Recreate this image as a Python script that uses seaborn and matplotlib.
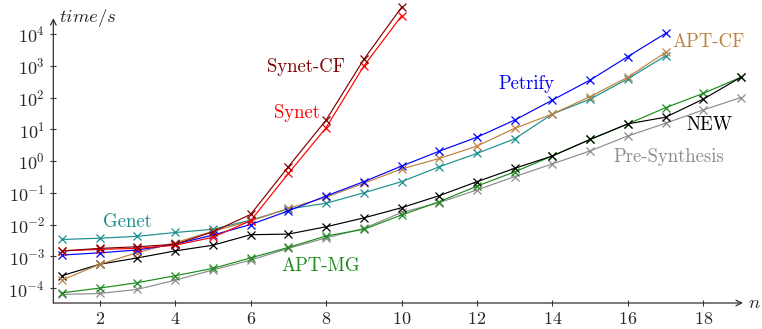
import numpy as np
import pandas as pd
import matplotlib
matplotlib.use("Agg")
import matplotlib.pyplot as plt
import seaborn as sns

sns.set_style("ticks")
plt.rcParams["font.family"] = ["serif"]
plt.rcParams["font.serif"] = ["cmr10", "DejaVu Serif"]
plt.rcParams["mathtext.fontset"] = "cm"
plt.rcParams["axes.formatter.use_mathtext"] = True
plt.rcParams["axes.unicode_minus"] = False

# ---- data (log10 of time in seconds) ----
n_short = list(range(1, 11))
n_mid = list(range(1, 18))
n_long = list(range(1, 20))

synet_cf = [-2.83, -2.75, -2.70, -2.62, -2.23, -1.68, -0.18, 1.29, 3.20, 4.84]
synet = [-2.83, -2.78, -2.75, -2.65, -2.40, -1.88, -0.39, 1.05, 2.99, 4.57]
petrify = [-2.96, -2.89, -2.80, -2.62, -2.33, -2.00, -1.57, -1.10, -0.65, -0.16,
           0.31, 0.75, 1.29, 1.92, 2.55, 3.29, 4.02]
apt_cf = [-3.75, -3.25, -2.88, -2.57, -2.21, -1.89, -1.49, -1.14, -0.70, -0.25,
          0.08, 0.47, 1.03, 1.48, 2.03, 2.64, 3.42]
genet = [-2.47, -2.43, -2.37, -2.25, -2.15, -1.86, -1.51, -1.33, -1.00, -0.65,
         -0.18, 0.24, 0.70, 1.48, 1.95, 2.59, 3.31]
new = [-3.61, -3.25, -3.05, -2.83, -2.65, -2.32, -2.30, -2.07, -1.79, -1.47,
       -1.09, -0.65, -0.23, 0.16, 0.68, 1.17, 1.38, 1.95, 2.64]
apt_mg = [-4.15, -4.00, -3.83, -3.61, -3.38, -3.05, -2.72, -2.36, -2.15, -1.70,
          -1.28, -0.79, -0.34, 0.16, 0.68, 1.17, 1.68, 2.13, 2.64]
pre_syn = [-4.20, -4.17, -4.04, -3.75, -3.43, -3.12, -2.75, -2.42, -2.12, -1.62,
           -1.31, -0.91, -0.49, -0.09, 0.32, 0.79, 1.19, 1.61, 2.00]

series = [
    ("Pre-Synthesis", n_long, pre_syn, "#8c8c8c"),
    ("APT-MG", n_long, apt_mg, "#1a8c1a"),
    ("NEW", n_long, new, "#000000"),
    ("Genet", n_mid, genet, "#1a8f8f"),
    ("APT-CF", n_mid, apt_cf, "#bf8040"),
    ("Petrify", n_mid, petrify, "#0000ff"),
    ("Synet", n_short, synet, "#ff0000"),
    ("Synet-CF", n_short, synet_cf, "#800000"),
]

labels = {
    "Synet-CF": (7.46, 2.96),
    "Synet": (7.23, 1.51),
    "Petrify": (13.32, 2.43),
    "APT-CF": (18.14, 3.75),
    "NEW": (18.15, 1.13),
    "Pre-Synthesis": (17.09, 0.12),
    "Genet": (2.72, -1.92),
    "APT-MG": (7.86, -3.31),
}

fig = plt.figure(figsize=(7.62, 3.29), dpi=100)
ax = fig.add_axes([0.070, 0.079, 0.905, 0.866])

colors = {}
for name, xs, ys, col in series:
    colors[name] = col
    df = pd.DataFrame({"n": xs, "t": np.power(10.0, ys)})
    sns.lineplot(data=df, x="n", y="t", ax=ax, color=col, marker="x",
                 markersize=5.5, markeredgewidth=0.9, markeredgecolor=col,
                 markerfacecolor=col, linewidth=0.85,
                 clip_on=False, legend=False)

ax.set_yscale("log")
ax.set_xlim(0.77, 19.05)
ax.set_ylim(10 ** -4.47, 10 ** 4.5)
ax.set_xticks([2, 4, 6, 8, 10, 12, 14, 16, 18])
ax.set_yticks([10.0 ** k for k in range(-4, 5)])
ax.yaxis.set_minor_locator(matplotlib.ticker.NullLocator())
ax.tick_params(axis="both", direction="inout", length=5, width=0.8,
               labelsize=13, color="#333333")
ax.set_xlabel("")
ax.set_ylabel("")

for s in ["top", "right", "left", "bottom"]:
    ax.spines[s].set_visible(False)

ax.annotate("", xy=(1.0, 0), xytext=(0, 0), xycoords="axes fraction",
            arrowprops=dict(arrowstyle="->", lw=0.9, color="#333333",
                            shrinkA=0, shrinkB=0))
ax.annotate("", xy=(0, 1.0), xytext=(0, 0), xycoords="axes fraction",
            arrowprops=dict(arrowstyle="->", lw=0.9, color="#333333",
                            shrinkA=0, shrinkB=0))

ax.text(0.008, 1.0, r"$time/s$", transform=ax.transAxes, ha="left",
        va="center", fontsize=13.5)
ax.text(1.008, 0.0, r"$n$", transform=ax.transAxes, ha="left",
        va="center", fontsize=13.5)

for name, (lx, ly) in labels.items():
    ax.text(lx, 10 ** ly, name, color=colors[name], ha="center", va="center",
            fontsize=13.5)

fig.savefig("out.png", dpi=100)
